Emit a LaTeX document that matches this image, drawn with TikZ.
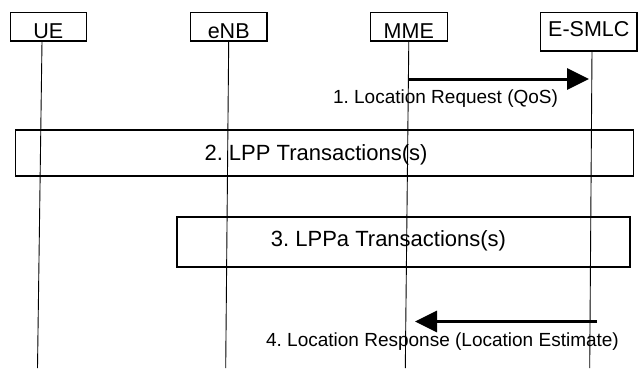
\documentclass[tikz,border=0pt]{standalone}
\usepackage{fontspec}
\setmainfont{Liberation Sans}
\usetikzlibrary{arrows.meta,positioning}
\frenchspacing

\begin{document}
\begin{tikzpicture}[x=1pt,y=-1pt,
    entity/.style={draw,line width=1.1pt,inner sep=0pt,text depth=0pt,text height=23pt,
      minimum width=76.5pt,minimum height=28.3pt,font=\fontsize{21.5}{24}\selectfont},
    lifeline/.style={line width=0.9pt},
    phase/.style={draw,line width=1.1pt,inner sep=0pt},
    phasetext/.style={anchor=base,font=\fontsize{22}{24}\selectfont},
    msg/.style={line width=3pt,-{Triangle[length=22pt,width=21pt]}},
    msgtext/.style={anchor=base,font=\fontsize{19}{22}\selectfont}]
        \useasboundingbox (0,0) rectangle (638,370);
        % entities
        \node[entity] (ue) at (48.3,26.8) {UE};
        \node[entity] (enb) at (228.7,26.8) {eNB};
        \node[entity] (mme) at (408.8,26.8) {MME};
        \node[entity,minimum width=96.3pt,minimum height=38.3pt,text height=10pt] (smlc) at (588.8,31.8) {E-SMLC};
        % lifelines
        \coordinate (ue-end) at (37.5,368);
        \coordinate (enb-end) at (225.7,368);
        \coordinate (mme-end) at (405.3,368);
        \coordinate (smlc-end) at (589.7,368);
        \draw[lifeline] ([xshift=-6.3pt]ue.south) -- (ue-end);
        \draw[lifeline] (enb.south) -- (enb-end);
        \draw[lifeline] (mme.south) -- (mme-end);
        \draw[lifeline] ([xshift=3.2pt]smlc.south) -- (smlc-end);
        % 1. request
        \coordinate (req-a) at (408.5,79);
        \coordinate (req-b) at (589,79);
        \draw[msg] (req-a) -- (req-b);
        \node[msgtext] (req) at (445.5,103) {1. Location Request (QoS)};
        % 2. and 3. transactions
        \node[phase,minimum width=617.7pt,minimum height=46pt] (lpp) at (324.2,153) {};
        \node[phasetext] (lpp-t) at (316,160) {2. LPP Transactions(s)};
        \node[phase,minimum width=453pt,minimum height=50pt] (lppa) at (403.5,242) {};
        \node[phasetext] (lppa-t) at (388.5,246.7) {3. LPPa Transactions(s)};
        % 4. response
        \coordinate (resp-a) at (597,321.5);
        \coordinate (resp-b) at (415,321.5);
        \draw[msg] (resp-a) -- (resp-b);
        \node[msgtext] (resp) at (442.5,346) {4. Location Response (Location Estimate)};
\end{tikzpicture}
\end{document}
